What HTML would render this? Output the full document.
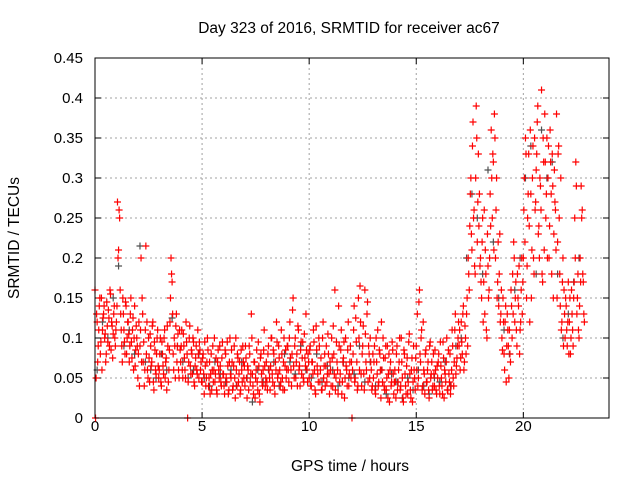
<!DOCTYPE html>
<html><head><meta charset="utf-8"><style>
html,body{margin:0;padding:0;background:#fff;width:640px;height:480px;overflow:hidden}
svg{display:block;font-family:"Liberation Sans",sans-serif}
</style></head><body>
<svg id="chart" width="640" height="480">
<text x="349" y="33" font-size="15.5" text-anchor="middle">Day 323 of 2016, SRMTID for receiver ac67</text>
<text transform="translate(19,238) rotate(-90)" font-size="15.5" text-anchor="middle">SRMTID / TECUs</text>
<text x="350" y="471" font-size="15.5" text-anchor="middle">GPS time / hours</text>
<g id="grid"></g>
<g id="axes"></g>
<g id="greyPts"></g>
<g id="redPts"></g>
<rect x="95" y="58" width="514" height="360" fill="none" stroke="#000" stroke-width="1"/>
</svg>
<script>
const xTicks=[0,5,10,15,20];
const yTicks=[0,0.05,0.1,0.15,0.2,0.25,0.3,0.35,0.4,0.45];
const yTickLabels=["0","0.05","0.1","0.15","0.2","0.25","0.3","0.35","0.4","0.45"];
const redStart=0, redStep=0.05;
const redValues=[
160,50,120,90,140,80,150,110,130,100,70,145,95,125,160,85,115,105,140,90,
120,270,210,250,130,90,150,110,80,140,100,120,70,130,95,110,60,140,85,100,
50,120,90,200,150,70,40,110,80,60,100,45,90,70,120,35,85,55,100,65,
60,100,40,80,55,110,70,35,90,60,120,200,170,80,100,50,130,90,60,110,
70,110,50,90,60,120,80,45,100,65,85,55,95,40,75,60,110,50,85,70,
45,80,30,65,50,100,40,70,55,35,90,60,45,75,30,85,50,65,40,95,
55,30,80,45,65,35,100,50,70,40,90,25,60,80,45,70,35,60,90,50,
40,75,25,60,90,45,130,55,30,70,50,85,35,65,20,80,45,60,110,40,
70,35,90,50,65,100,45,80,30,60,95,55,75,40,110,50,70,35,85,60,
90,45,120,60,80,150,50,100,70,40,110,65,85,55,95,45,75,130,60,80,
50,90,40,70,110,60,30,85,55,100,45,75,35,120,65,40,90,55,80,30,
60,100,40,80,160,50,70,30,90,55,110,45,75,25,100,60,85,40,70,50,
0,80,140,50,95,35,150,60,120,40,90,55,160,70,130,45,80,100,60,40,
50,90,30,70,110,45,80,25,60,100,40,75,35,90,55,20,70,45,85,30,
60,25,90,45,70,35,100,50,20,80,40,65,30,95,55,25,75,45,60,35,
90,130,50,160,70,110,40,60,30,85,45,70,25,95,55,35,80,40,60,30,
50,80,30,65,40,95,25,55,70,35,85,45,30,60,90,40,110,55,75,100,
90,60,120,80,140,70,100,130,90,180,240,300,210,370,260,180,390,220,330,280,
200,150,250,170,130,180,100,190,160,280,360,250,320,380,200,300,170,140,230,130,
100,150,80,120,45,130,90,110,70,140,180,220,120,170,90,150,190,110,160,130,
200,300,350,150,250,330,120,280,210,340,180,260,310,370,230,200,290,410,170,320,
380,250,350,300,200,360,280,330,150,310,260,380,220,340,180,300,120,200,160,100,
140,90,170,120,80,160,110,150,250,320,130,180,100,200,290,260,170,120];
const red2Start=0.025, red2Step=0.05;
const red2Values=[
0,130,70,110,150,95,60,125,140,105,80,115,135,90,155,120,75,130,100,110,
140,200,260,160,110,70,130,95,145,80,120,105,90,150,75,125,100,65,115,90,
80,40,110,70,130,95,60,215,120,50,75,105,65,115,45,95,60,80,110,50,
80,45,95,65,100,50,75,115,45,85,150,180,130,60,90,115,70,105,50,85,
90,60,105,75,50,95,0,70,115,55,80,100,45,65,90,55,80,95,60,45,
75,55,95,40,70,85,50,30,80,60,45,100,55,35,70,60,90,45,75,55,
40,85,50,95,30,70,55,85,35,65,50,100,40,75,55,30,85,45,70,65,
90,50,65,35,80,55,100,40,70,25,60,45,95,30,75,55,40,85,65,50,
45,80,60,35,100,55,85,40,70,120,50,90,60,45,80,35,100,65,50,90,
60,100,75,40,135,65,90,50,80,115,60,40,95,75,50,105,65,85,45,70,
85,40,70,55,95,35,115,65,45,90,60,35,100,50,80,65,45,105,55,70,
40,75,115,55,35,95,60,140,45,85,30,70,95,50,65,40,120,55,90,70,
60,110,45,125,70,40,100,165,55,80,115,35,105,60,145,90,50,70,35,80,
70,35,100,55,40,85,60,120,45,75,35,90,50,25,80,60,40,95,55,45,
45,80,35,60,100,40,70,25,85,55,30,75,45,105,35,60,20,90,50,75,
60,40,145,80,100,35,120,55,80,45,60,35,90,50,70,40,55,85,35,65,
70,40,95,50,30,75,60,45,100,35,55,80,40,110,50,70,130,65,90,120,
110,75,95,130,60,115,80,150,200,160,280,230,340,250,190,300,350,270,240,190,
170,220,120,260,210,110,230,150,200,240,300,330,210,350,260,150,220,180,120,160,
85,120,60,140,90,110,50,80,160,100,130,200,150,110,180,140,80,120,200,170,
260,220,330,190,280,240,360,150,300,200,350,270,330,390,240,300,260,180,350,210,
320,280,200,340,240,320,180,290,230,270,210,150,330,250,140,110,170,90,130,150,
110,120,80,150,100,130,90,170,200,290,150,110,140,170,250,180,130];
const greyStart=0.1, greyStep=0.25;
const greyValues=[60,120,100,150,190,90,110,80,215,70,60,50,80,60,125,90,70,50,60,80,
50,40,70,55,45,60,40,70,50,20,60,45,60,70,40,80,70,55,90,60,50,80,45,65,60,40,70,50,
55,90,45,70,40,60,30,55,45,25,50,35,60,40,30,50,45,70,40,90,100,200,280,250,180,310,220,150,
110,80,160,200,300,340,180,360,300,320,180,100,130,170,200];
const NS='http://www.w3.org/2000/svg';
const X0=95,X1=609,Y0=418,Y1=58,XMAX=24,YMAX=0.45;
function xs(t){return X0+(X1-X0)*t/XMAX;}
function ys(v){return Y0-(Y0-Y1)*v/YMAX;}
const grid=document.getElementById('grid'),axes=document.getElementById('axes');
xTicks.forEach(t=>{
  const x=xs(t);
  if(t>0){const l=document.createElementNS(NS,'line');
  
  
  l.setAttribute('x1',x);l.setAttribute('x2',x);l.setAttribute('y1',Y1);l.setAttribute('y2',Y0);
  l.setAttribute('stroke','#a0a0a0');l.setAttribute('stroke-dasharray','2,3');grid.appendChild(l);}
  [[Y0,Y0-6],[Y1,Y1+6]].forEach(p=>{const k=document.createElementNS(NS,'line');
  
  
  k.setAttribute('x1',x);k.setAttribute('x2',x);k.setAttribute('y1',p[0]);k.setAttribute('y2',p[1]);k.setAttribute('stroke','#000');axes.appendChild(k);});
  const tx=document.createElementNS(NS,'text');
  
  
  tx.setAttribute('x',x);tx.setAttribute('y',Y0+13);tx.setAttribute('font-size','15');tx.setAttribute('text-anchor','middle');tx.textContent=t;axes.appendChild(tx);
});
yTicks.forEach((v,i)=>{
  const y=ys(v);
  if(v>0&&v<YMAX){const l=document.createElementNS(NS,'line');
  
  
  l.setAttribute('x1',X0);l.setAttribute('x2',X1);l.setAttribute('y1',y);l.setAttribute('y2',y);
  l.setAttribute('stroke','#a0a0a0');l.setAttribute('stroke-dasharray','2,3');grid.appendChild(l);}
  [[X0,X0+6],[X1,X1-6]].forEach(p=>{const k=document.createElementNS(NS,'line');
  
  
  k.setAttribute('x1',p[0]);k.setAttribute('x2',p[1]);k.setAttribute('y1',y);k.setAttribute('y2',y);k.setAttribute('stroke','#000');axes.appendChild(k);});
  const tx=document.createElementNS(NS,'text');
  
  
  tx.setAttribute('x',X0-12);tx.setAttribute('y',y+5);tx.setAttribute('font-size','15');tx.setAttribute('text-anchor','end');tx.textContent=yTickLabels[i];axes.appendChild(tx);
});
function plot(gid,start,step,vals,color){
  const g=document.getElementById(gid);let d='';
  vals.forEach((v,i)=>{const x=xs(start+i*step),y=ys(v/1000);
    d+='M'+(x-3.5)+' '+y+'h7M'+x+' '+(y-3.5)+'v7';});
  const p=document.createElementNS(NS,'path');
  
  
  p.setAttribute('d',d);p.setAttribute('stroke',color);p.setAttribute('stroke-width','1.2');p.setAttribute('fill','none');
  g.appendChild(p);
}
plot('greyPts',greyStart,greyStep,greyValues,'#505050');
plot('redPts',redStart,redStep,redValues,'#ff0000');
plot('redPts',red2Start,red2Step,red2Values,'#ff0000');
</script>
</body></html>
